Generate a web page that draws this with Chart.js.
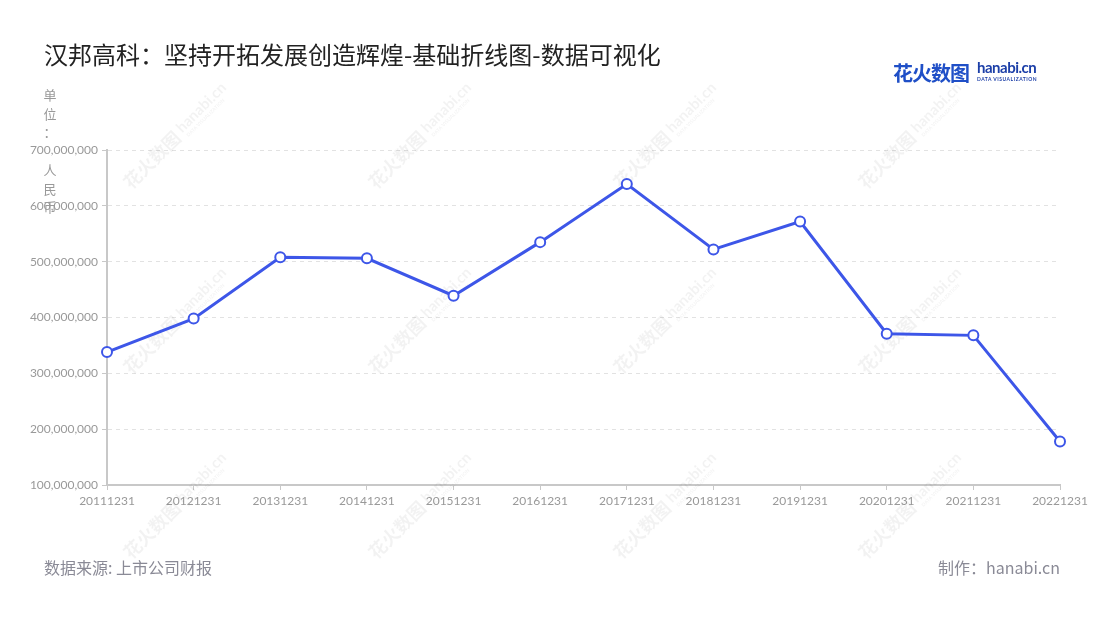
<!DOCTYPE html>
<html>
<head>
<meta charset="utf-8">
<title>汉邦高科</title>
<script src="https://cdn.jsdelivr.net/npm/chart.js@4.4.0/dist/chart.umd.min.js"></script>
<style>
  html, body { margin: 0; padding: 0; background: #fff; }
  body { width: 1100px; height: 620px; position: relative; overflow: hidden;
         font-family: "Noto Sans CJK SC", "Noto Sans", sans-serif; }
  #chart { position: absolute; left: 0; top: 0; }
  .title { position: absolute; left: 44px; top: 36px; font-size: 24px; color: #222; }
  .unit { position: absolute; left: 43px; top: 86px; width: 14px; font-size: 13px;
          line-height: 18.7px; color: #999; text-align: center; }
  .foot { position: absolute; top: 555px; font-size: 16px; color: #8a8a96; }
  .logo { position: absolute; left: 893px; top: 58px; height: 30px; }
  .logo .cn { position: absolute; left: 0; top: 0; font-size: 20px; font-weight: bold;
              color: #1f4fc7; white-space: nowrap; letter-spacing: -1px; }
  .logo .en { position: absolute; left: 84px; top: 0px; font-family: Lato, sans-serif;
              font-size: 15px; font-weight: bold; color: #1c3fa8; white-space: nowrap; letter-spacing: -0.5px; }
  .logo .sub { position: absolute; left: 84px; top: 18px; font-family: Lato, sans-serif;
               font-size: 5px; font-weight: bold; color: #1c3fa8; white-space: nowrap; letter-spacing: 0.5px; }
</style>
</head>
<body>
<canvas id="chart" width="1100" height="620"></canvas>
<div class="title">汉邦高科：坚持开拓发展创造辉煌-基础折线图-数据可视化</div>
<div class="logo"><span class="cn">花火数图</span><span class="en">hanabi.cn</span><span class="sub">DATA VISUALIZATION</span></div>
<div class="unit">单<br>位<br>：<br>&nbsp;<br>人<br>民<br>币</div>
<div class="foot" style="left:44px;">数据来源: 上市公司财报</div>
<div class="foot" style="right:40px;">制作：hanabi.cn</div>
<script>
const categories = ['20111231', '20121231', '20131231', '20141231', '20151231', '20161231',
                    '20171231', '20181231', '20191231', '20201231', '20211231', '20221231'];
const revenue = [338000000, 398000000, 508000000, 506000000, 439000000, 535000000,
                 639000000, 522000000, 572000000, 371000000, 368000000, 178000000];
const yMin = 100000000;
const yMax = 700000000;
const yStep = 100000000;

const lineColor = '#3d56e8';

// faint diagonal watermark like the original site stamp
const watermark = {
    id: 'watermark',
    beforeDatasetsDraw(chart) {
        const ctx = chart.ctx;
        const cols = [178, 423, 668, 913];
        const rows = [135, 320, 505];
        ctx.save();
        ctx.fillStyle = 'rgba(0,0,0,0.05)';
        cols.forEach(cx => {
            rows.forEach(cy => {
                ctx.save();
                ctx.translate(cx, cy);
                ctx.rotate(-Math.PI / 4);
                ctx.font = 'bold 18px "Noto Sans CJK SC"';
                ctx.fillText('花火数图', -72, 6);
                ctx.font = 'bold 15px Lato';
                ctx.fillText('hanabi.cn', 4, 2);
                ctx.font = 'bold 5px Lato';
                ctx.fillText('DATA VISUALIZATION', 6, 9);
                ctx.restore();
            });
        });
        ctx.restore();
    }
};

new Chart(document.getElementById('chart'), {
    type: 'line',
    data: {
        labels: categories,
        datasets: [{
            data: revenue,
            borderColor: lineColor,
            borderWidth: 3,
            pointRadius: 5,
            pointHoverRadius: 5,
            pointBackgroundColor: '#fff',
            pointBorderColor: lineColor,
            pointBorderWidth: 2,
            tension: 0
        }]
    },
    options: {
        responsive: false,
        animation: false,
        devicePixelRatio: 1,
        layout: { padding: { left: 30, top: 150, right: 40, bottom: 105 } },
        plugins: {
            legend: { display: false },
            tooltip: { enabled: false }
        },
        scales: {
            x: {
                offset: false,
                grid: { drawOnChartArea: false, tickLength: 5, tickColor: '#c8c8c8' },
                border: { color: '#c8c8c8', width: 2 },
                ticks: { color: '#999', padding: 4, maxRotation: 0, autoSkip: false,
                         font: { family: 'Lato', size: 12 } },
                afterFit(scale) { scale.height = 30; }
            },
            y: {
                min: yMin,
                max: yMax,
                grid: { color: '#e2e2e2', tickLength: 5, tickColor: '#c8c8c8' },
                border: { color: '#c8c8c8', width: 2, dash: [4, 4] },
                ticks: {
                    stepSize: yStep,
                    color: '#999',
                    padding: 4,
                    font: { family: 'Lato', size: 12 },
                    callback: v => v.toLocaleString('en-US')
                },
                afterFit(scale) { scale.width = 77; }
            }
        }
    },
    plugins: [watermark]
});
</script>
</body>
</html>
